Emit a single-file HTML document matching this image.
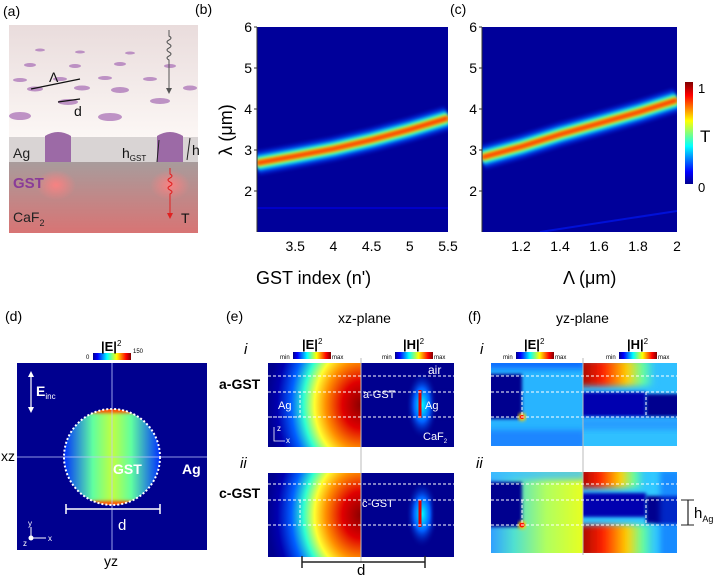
<!DOCTYPE html>
<html><head><meta charset="utf-8">
<style>
html,body{margin:0;padding:0;background:#fff;}
body{width:725px;height:575px;overflow:hidden;font-family:"Liberation Sans",sans-serif;}
svg text{font-family:"Liberation Sans",sans-serif;}
</style></head>
<body>
<svg id="fig" width="725" height="575" viewBox="0 0 725 575" xmlns="http://www.w3.org/2000/svg">
<defs>
<linearGradient id="jet" x1="0" x2="1" y1="0" y2="0">
<stop offset="0" stop-color="#00008f"/><stop offset="0.12" stop-color="#0000ff"/><stop offset="0.37" stop-color="#00ffff"/><stop offset="0.62" stop-color="#ffff00"/><stop offset="0.87" stop-color="#ff0000"/><stop offset="1" stop-color="#800000"/>
</linearGradient>
<linearGradient id="jetv" x1="0" x2="0" y1="1" y2="0">
<stop offset="0" stop-color="#00008f"/><stop offset="0.12" stop-color="#0000ff"/><stop offset="0.37" stop-color="#00ffff"/><stop offset="0.62" stop-color="#ffff00"/><stop offset="0.87" stop-color="#ff0000"/><stop offset="1" stop-color="#800000"/>
</linearGradient>
<linearGradient id="hot" x1="0" x2="1"><stop offset="0" stop-color="#8a0000"/><stop offset="0.35" stop-color="#ff2000"/><stop offset="0.65" stop-color="#ffd000"/><stop offset="0.85" stop-color="#60ffa0"/><stop offset="1" stop-color="#30c0ff"/></linearGradient>
<linearGradient id="atop" x1="0" x2="0" y1="0" y2="1"><stop offset="0" stop-color="#e9dcdc"/><stop offset="1" stop-color="#fcf7f5"/></linearGradient>
<linearGradient id="abot" x1="0" x2="0" y1="0" y2="1"><stop offset="0" stop-color="#a89c9c"/><stop offset="1" stop-color="#d87474"/></linearGradient>
<radialGradient id="glow"><stop offset="0" stop-color="#ff8080" stop-opacity="0.9"/><stop offset="1" stop-color="#ff8080" stop-opacity="0"/></radialGradient>
<radialGradient id="eL" cx="1" cy="0.5" r="1" fx="1" fy="0.5" gradientTransform="translate(1 0.5) scale(1 1.4) translate(-1 -0.5)">
<stop offset="0" stop-color="#8a0000"/><stop offset="0.2" stop-color="#e00000"/><stop offset="0.38" stop-color="#ff9000"/><stop offset="0.5" stop-color="#ffff30"/><stop offset="0.62" stop-color="#30ffd0"/><stop offset="0.75" stop-color="#0060ff"/><stop offset="0.9" stop-color="#0000b0"/><stop offset="1" stop-color="#00008f"/>
</radialGradient>
<radialGradient id="hG"><stop offset="0" stop-color="#00ffff"/><stop offset="0.5" stop-color="#0060ff"/><stop offset="1" stop-color="#00008f" stop-opacity="0"/></radialGradient>
<linearGradient id="dC" x1="0" x2="1"><stop offset="0" stop-color="#0030ff"/><stop offset="0.3" stop-color="#60ffa0"/><stop offset="0.5" stop-color="#c0ff40"/><stop offset="0.7" stop-color="#60ffa0"/><stop offset="1" stop-color="#0030ff"/></linearGradient>
<linearGradient id="fiiL" x1="0" x2="1"><stop offset="0" stop-color="#30a0ff"/><stop offset="0.25" stop-color="#50e0d0"/><stop offset="0.6" stop-color="#b0ff60"/><stop offset="1" stop-color="#e8ff20"/></linearGradient>
<filter id="bl" x="-10%" y="-50%" width="120%" height="200%"><feGaussianBlur stdDeviation="1.6"/></filter>
<filter id="bl3" x="-30%" y="-30%" width="160%" height="160%"><feGaussianBlur stdDeviation="3"/></filter>
<clipPath id="cb"><rect x="257" y="27" width="191" height="205"/></clipPath>
<clipPath id="cc"><rect x="482" y="27" width="195" height="205"/></clipPath>
<clipPath id="cd"><circle cx="112" cy="457" r="48"/></clipPath>
<clipPath id="fiL"><rect x="491" y="363" width="92" height="83"/></clipPath>
<clipPath id="fiR"><rect x="583" y="363" width="94" height="83"/></clipPath>
<clipPath id="fiiLc"><rect x="491" y="472" width="92" height="81"/></clipPath>
<clipPath id="fiiR"><rect x="583" y="472" width="94" height="81"/></clipPath>
<clipPath id="eiR"><rect x="361" y="363" width="93" height="84"/></clipPath>
<clipPath id="eiiR"><rect x="361" y="473" width="93" height="84"/></clipPath>
</defs>

<!-- Panel a -->
<g>
<text x="3" y="16" font-size="14">(a)</text>
<rect x="9" y="25" width="189" height="112" fill="url(#atop)"/>
<rect x="9" y="137" width="189" height="25" fill="#d9d4d4"/>
<rect x="9" y="162" width="189" height="71" fill="url(#abot)"/>
<g fill="#b482be" opacity="0.85">
<ellipse cx="20" cy="80" rx="7" ry="2"/><ellipse cx="60" cy="79" rx="7" ry="2"/><ellipse cx="105" cy="78" rx="7" ry="2"/><ellipse cx="150" cy="79" rx="7" ry="2"/><ellipse cx="190" cy="88" rx="7" ry="2.5"/>
<ellipse cx="35" cy="89" rx="8" ry="2.5"/><ellipse cx="82" cy="88" rx="8" ry="2.5"/><ellipse cx="120" cy="90" rx="9" ry="3"/>
<ellipse cx="68" cy="102" rx="10" ry="3"/><ellipse cx="160" cy="101" rx="10" ry="3"/>
<ellipse cx="20" cy="116" rx="11" ry="4"/><ellipse cx="110" cy="117" rx="12" ry="4"/>
<ellipse cx="40" cy="50" rx="5" ry="1.5"/><ellipse cx="80" cy="52" rx="5" ry="1.5"/><ellipse cx="130" cy="53" rx="5" ry="1.5"/><ellipse cx="30" cy="65" rx="6" ry="2"/><ellipse cx="75" cy="66" rx="6" ry="2"/><ellipse cx="120" cy="64" rx="6" ry="2"/><ellipse cx="170" cy="66" rx="6" ry="2"/>
</g>
<ellipse cx="56" cy="185" rx="20" ry="15" fill="url(#glow)"/>
<ellipse cx="170" cy="185" rx="20" ry="15" fill="url(#glow)"/>
<path d="M45 162 V136 Q58 128 71 136 V162 Z" fill="#9c6aa6"/>
<path d="M157 162 V136 Q170 128 183 136 V162 Z" fill="#9c6aa6"/>
<text x="13" y="158" font-size="14" fill="#222">Ag</text>
<text x="13" y="188" font-size="15" font-weight="bold" fill="#8a3c98">GST</text>
<text x="13" y="222" font-size="14" fill="#222">CaF<tspan font-size="9" dy="4">2</tspan></text>
<text x="122" y="158" font-size="14" fill="#111">h<tspan font-size="8" dy="3">GST</tspan></text>
<line x1="159" y1="140" x2="157" y2="162" stroke="#222" stroke-width="1"/>
<line x1="190" y1="138" x2="187" y2="160" stroke="#222" stroke-width="1"/>
<text x="192" y="155" font-size="14" fill="#111">h</text>
<line x1="31" y1="89" x2="80" y2="79" stroke="#111" stroke-width="1.2"/>
<text x="49" y="82" font-size="14" fill="#111">Λ</text>
<line x1="58" y1="102" x2="80" y2="99" stroke="#111" stroke-width="1.2"/>
<text x="74" y="116" font-size="14" fill="#111">d</text>
<path d="M169 30 V36 q4 2 0 4 q-4 2 0 4 q4 2 0 4 q-4 2 0 4 q4 2 0 4 q-4 2 0 4 V92" stroke="#555" fill="none" stroke-width="1"/>
<path d="M166 88 L169 94 L172 88 Z" fill="#555"/>
<path d="M170 168 V174 q4 2 0 4 q-4 2 0 4 q4 2 0 4 q-4 2 0 4 q4 2 0 4 V216" stroke="#e02020" fill="none" stroke-width="1"/>
<path d="M167 213 L170 219 L173 213 Z" fill="#e02020"/>
<text x="181" y="223" font-size="14" fill="#111">T</text>
</g>

<!-- Panel b -->
<g>
<text x="195" y="14" font-size="14">(b)</text>
<rect x="257" y="27" width="191" height="205" fill="#00009a"/>
<g id="bandB" clip-path="url(#cb)"></g>
<g id="axB"></g>
<text x="256" y="284" font-size="18">GST index (n')</text>
<text transform="translate(232 130) rotate(-90)" text-anchor="middle" font-size="18">λ (μm)</text>
</g>

<!-- Panel c -->
<g>
<text x="450" y="14" font-size="14">(c)</text>
<rect x="482" y="27" width="195" height="205" fill="#00009a"/>
<g id="bandC" clip-path="url(#cc)"></g>
<g id="axC"></g>
<text x="563" y="284" font-size="18">Λ (μm)</text>
<rect x="685" y="82" width="8" height="102" fill="url(#jetv)"/>
<text x="698" y="93" font-size="13">1</text>
<text x="698" y="192" font-size="13">0</text>
<text x="700" y="142" font-size="17">T</text>
</g>

<!-- Panel d -->
<g>
<text x="5" y="321" font-size="14">(d)</text>
<rect x="93" y="353" width="38" height="7" fill="url(#jet)"/>
<text x="86" y="359" font-size="6">0</text>
<text x="133" y="353" font-size="6">150</text>
<text x="101" y="351" font-size="13" font-weight="bold">|E|<tspan font-size="8" font-weight="normal" dy="-5">2</tspan></text>
<rect x="17" y="363" width="190" height="187" fill="#00008f"/>
<g clip-path="url(#cd)">
<rect x="64" y="409" width="96" height="96" fill="url(#dC)"/>
<rect x="64" y="405" width="96" height="8" fill="#ff5000" filter="url(#bl)"/>
<rect x="64" y="501" width="96" height="8" fill="#ff5000" filter="url(#bl)"/>
</g>
<circle cx="112" cy="457" r="48" fill="none" stroke="#fff" stroke-width="2" stroke-dasharray="2 2"/>
<line x1="112" y1="363" x2="112" y2="550" stroke="#c0c8ff" stroke-width="0.8"/>
<line x1="17" y1="457" x2="207" y2="457" stroke="#c0c8ff" stroke-width="0.8"/>
<text x="113" y="474" font-size="14" font-weight="bold" fill="#fff">GST</text>
<text x="182" y="474" font-size="14" font-weight="bold" fill="#fff">Ag</text>
<line x1="66" y1="509" x2="160" y2="509" stroke="#fff" stroke-width="1.5"/>
<line x1="66" y1="504" x2="66" y2="514" stroke="#fff" stroke-width="1.5"/>
<line x1="160" y1="504" x2="160" y2="514" stroke="#fff" stroke-width="1.5"/>
<text x="118" y="530" font-size="15" fill="#fff">d</text>
<line x1="31" y1="373" x2="31" y2="411" stroke="#fff" stroke-width="1.2"/>
<path d="M28 377 L31 371 L34 377 Z M28 407 L31 413 L34 407 Z" fill="#fff"/>
<text x="36" y="396" font-size="14" font-weight="bold" fill="#fff">E<tspan font-size="8" font-weight="normal" dy="3">inc</tspan></text>
<circle cx="31" cy="538" r="2.5" fill="#fff"/>
<line x1="31" y1="538" x2="46" y2="538" stroke="#fff"/><line x1="31" y1="538" x2="31" y2="527" stroke="#fff"/>
<text x="48" y="541" font-size="8" fill="#fff">x</text><text x="28" y="526" font-size="8" fill="#fff">y</text><text x="23" y="546" font-size="8" fill="#fff">z</text>
<text x="1" y="461" font-size="14">xz</text>
<text x="104" y="566" font-size="14">yz</text>
</g>

<!-- Panel e -->
<g>
<text x="226" y="321" font-size="14">(e)</text>
<text x="338" y="323" font-size="14">xz-plane</text>
<text x="244" y="354" font-size="15" font-style="italic">i</text>
<text x="240" y="468" font-size="15" font-style="italic">ii</text>
<text x="219" y="389" font-size="14" font-weight="bold">a-GST</text>
<text x="219" y="498" font-size="14" font-weight="bold">c-GST</text>
<text x="280" y="359" font-size="6">min</text><text x="332" y="359" font-size="6">max</text>
<rect x="293" y="352" width="38" height="7" fill="url(#jet)"/>
<text x="302" y="349" font-size="13" font-weight="bold">|E|<tspan font-size="8" font-weight="normal" dy="-5">2</tspan></text>
<text x="382" y="359" font-size="6">min</text><text x="434" y="359" font-size="6">max</text>
<rect x="395" y="352" width="38" height="7" fill="url(#jet)"/>
<text x="403" y="349" font-size="13" font-weight="bold">|H|<tspan font-size="8" font-weight="normal" dy="-5">2</tspan></text>
<rect x="268" y="363" width="93" height="84" fill="url(#eL)"/>
<rect x="361" y="363" width="93" height="84" fill="#00008f"/>
<g clip-path="url(#eiR)">
<ellipse cx="422" cy="405" rx="16" ry="34" fill="url(#hG)"/>
<rect x="433" y="392" width="21" height="25" fill="#00008f" opacity="0.5" filter="url(#bl)"/>
</g>
<line x1="420" y1="390" x2="420" y2="418" stroke="#e00000" stroke-width="3"/>
<rect x="268" y="473" width="93" height="84" fill="url(#eL)"/>
<rect x="361" y="473" width="93" height="84" fill="#00008f"/>
<g clip-path="url(#eiiR)">
<ellipse cx="422" cy="514" rx="16" ry="34" fill="url(#hG)"/>
<rect x="433" y="500" width="21" height="25" fill="#00008f" filter="url(#bl)"/>
</g>
<line x1="420" y1="500" x2="420" y2="527" stroke="#e00000" stroke-width="3"/>
<line x1="361" y1="358" x2="361" y2="562" stroke="#bbb" stroke-width="1"/>
<g stroke="#fff" stroke-width="1" stroke-dasharray="3 2" fill="none">
<line x1="268" y1="376" x2="454" y2="376"/><line x1="268" y1="392" x2="454" y2="392"/><line x1="268" y1="417" x2="454" y2="417"/>
<polyline points="268,392 300,392 300,417 268,417"/>
<line x1="268" y1="484" x2="454" y2="484"/><line x1="268" y1="500" x2="454" y2="500"/><line x1="268" y1="525" x2="454" y2="525"/>
<line x1="300" y1="500" x2="300" y2="525"/>
</g>
<text x="428" y="374" font-size="12" fill="#fff">air</text>
<text x="363" y="398" font-size="11" fill="#fff">a-GST</text>
<text x="362" y="507" font-size="11" fill="#fff">c-GST</text>
<text x="278" y="409" font-size="11" fill="#fff">Ag</text>
<text x="425" y="409" font-size="11" fill="#fff">Ag</text>
<text x="423" y="440" font-size="11" fill="#fff">CaF<tspan font-size="6" dy="3">2</tspan></text>
<path d="M274 427 V441 H285" stroke="#fff" fill="none" stroke-width="0.8"/>
<text x="277" y="431" font-size="8" fill="#fff">z</text><text x="286" y="443" font-size="8" fill="#fff">x</text>
<line x1="302" y1="562" x2="425" y2="562" stroke="#222" stroke-width="1.5"/>
<line x1="302" y1="556" x2="302" y2="568" stroke="#222" stroke-width="1.5"/>
<line x1="425" y1="556" x2="425" y2="568" stroke="#222" stroke-width="1.5"/>
<text x="357" y="575" font-size="15">d</text>
</g>

<!-- Panel f -->
<g>
<text x="468" y="321" font-size="14">(f)</text>
<text x="556" y="323" font-size="14">yz-plane</text>
<text x="480" y="354" font-size="15" font-style="italic">i</text>
<text x="476" y="468" font-size="15" font-style="italic">ii</text>
<text x="503" y="359" font-size="6">min</text><text x="555" y="359" font-size="6">max</text>
<rect x="516" y="352" width="38" height="7" fill="url(#jet)"/>
<text x="524" y="349" font-size="13" font-weight="bold">|E|<tspan font-size="8" font-weight="normal" dy="-5">2</tspan></text>
<text x="606" y="359" font-size="6">min</text><text x="658" y="359" font-size="6">max</text>
<rect x="619" y="352" width="38" height="7" fill="url(#jet)"/>
<text x="627" y="349" font-size="13" font-weight="bold">|H|<tspan font-size="8" font-weight="normal" dy="-5">2</tspan></text>
<!-- i left -->
<g clip-path="url(#fiL)">
<rect x="491" y="363" width="92" height="83" fill="#28b4ff"/>
<rect x="485" y="355" width="100" height="14" fill="#1070ff" filter="url(#bl3)"/>
<rect x="485" y="374" width="37" height="45" fill="#00008f" filter="url(#bl)"/>
<rect x="485" y="430" width="100" height="20" fill="#1868ff" opacity="0.6" filter="url(#bl3)"/>
<circle cx="522" cy="417" r="4" fill="#ffd000" filter="url(#bl)"/>
<circle cx="522" cy="417" r="2" fill="#ff1000"/>
</g>
<!-- i right -->
<g clip-path="url(#fiR)">
<rect x="583" y="363" width="94" height="83" fill="#30c0ff"/>
<rect x="575" y="360" width="80" height="26" fill="url(#hot)" filter="url(#bl3)"/>
<rect x="575" y="392" width="71" height="25" fill="#0000b0" filter="url(#bl)"/>
<rect x="646" y="394" width="40" height="23" fill="#00008f" filter="url(#bl)"/>
<rect x="575" y="418" width="110" height="12" fill="#2088ff" opacity="0.6" filter="url(#bl3)"/>
</g>
<!-- ii left -->
<g clip-path="url(#fiiLc)">
<rect x="491" y="472" width="92" height="81" fill="url(#fiiL)"/>
<rect x="485" y="466" width="100" height="14" fill="#40c0ff" opacity="0.8" filter="url(#bl3)"/>
<rect x="485" y="482" width="37" height="45" fill="#00008f" filter="url(#bl)"/>
<circle cx="522" cy="525" r="4" fill="#ffd000" filter="url(#bl)"/>
<circle cx="522" cy="525" r="2.5" fill="#ff1000"/>
</g>
<!-- ii right -->
<g clip-path="url(#fiiR)">
<rect x="583" y="472" width="94" height="81" fill="#30c8ff"/>
<rect x="575" y="468" width="70" height="20" fill="url(#hot)" filter="url(#bl3)"/>
<rect x="575" y="493" width="71" height="24" fill="#0000b0" filter="url(#bl)"/>
<rect x="646" y="496" width="40" height="28" fill="#00008f" filter="url(#bl)"/>
<rect x="575" y="525" width="80" height="32" fill="url(#hot)" filter="url(#bl3)"/>
<rect x="660" y="470" width="22" height="90" fill="#0050ff" opacity="0.5" filter="url(#bl3)"/>
</g>
<line x1="583" y1="358" x2="583" y2="555" stroke="#bbb" stroke-width="1"/>
<g stroke="#fff" stroke-width="1" stroke-dasharray="3 2" fill="none">
<line x1="491" y1="376" x2="677" y2="376"/><line x1="491" y1="392" x2="677" y2="392"/><line x1="491" y1="417" x2="677" y2="417"/>
<line x1="522" y1="392" x2="522" y2="417"/><line x1="646" y1="392" x2="646" y2="417"/>
<line x1="491" y1="484" x2="677" y2="484"/><line x1="491" y1="500" x2="677" y2="500"/><line x1="491" y1="525" x2="677" y2="525"/>
<line x1="522" y1="500" x2="522" y2="525"/><line x1="646" y1="500" x2="646" y2="525"/>
</g>
<line x1="688" y1="500" x2="688" y2="525" stroke="#222" stroke-width="1.2"/>
<line x1="681" y1="500" x2="694" y2="500" stroke="#222"/><line x1="681" y1="525" x2="694" y2="525" stroke="#222"/>
<text x="694" y="518" font-size="15">h<tspan font-size="9" dy="4">Ag</tspan></text>
</g>

<script>
// Panel b data: resonance peak wavelength vs GST index
var bIndex = [3.0, 3.5, 4.0, 4.5, 5.0, 5.5];
var bPeakWl = [2.68, 2.85, 3.03, 3.25, 3.50, 3.78];
var bXTicks = [3.5, 4, 4.5, 5, 5.5];
// Panel c data: resonance peak wavelength vs period
var cPeriod = [1.0, 1.2, 1.4, 1.6, 1.8, 2.0];
var cPeakWl = [2.82, 3.08, 3.38, 3.65, 3.92, 4.22];
var cXTicks = [1.2, 1.4, 1.6, 1.8, 2];
var yTicks = [2, 3, 4, 5, 6];

var NS = "http://www.w3.org/2000/svg";
function yScale(v){ return 232 - (v - 1) * 41; }
function bx(v){ return 257 + (v - 3.0) / 2.5 * 191; }
function cx(v){ return 482 + (v - 1.0) / 1.0 * 195; }
function mk(tag, attrs, parent){
  var e = document.createElementNS(NS, tag);
  for (var k in attrs) e.setAttribute(k, attrs[k]);
  parent.appendChild(e); return e;
}
function band(g, xs, ys, xf, nm){
  var d = "";
  for (var i = 0; i < xs.length; i++) d += (i ? " L" : "M") + xf(xs[i]).toFixed(1) + " " + yScale(ys[i]).toFixed(1);
  var layers = [[24,"#0040ff",0.5],[17,"#0090ff",0.9],[12,"#20ffe0",1],[8,"#c0ff30",1],[5,"#ff9000",1],[2.5,"#ff2000",1]];
  for (var j = 0; j < layers.length; j++){
    var p = mk("path", {d: d, fill: "none", stroke: layers[j][1], "stroke-width": layers[j][0], opacity: layers[j][2], filter: "url(#bl)"}, g);
    
    
  }
}
function axes(g, x0, x1, xticks, xf){
  mk("line", {x1: x0, y1: 27, x2: x0, y2: 232, stroke: "#333", "stroke-width": 1}, g);
  for (var i = 0; i < yTicks.length; i++){
    var y = yScale(yTicks[i]);
    mk("line", {x1: x0 - 3, y1: y, x2: x0, y2: y, stroke: "#333"}, g);
    var t = mk("text", {x: x0 - 5, y: y + 5, "text-anchor": "end", "font-size": 14}, g);
    t.textContent = yTicks[i];
    
    
  }
  for (var k = 0; k < xticks.length; k++){
    var tx = mk("text", {x: xf(xticks[k]), y: 251, "text-anchor": "middle", "font-size": 14}, g);
    tx.textContent = xticks[k];
    
    
  }
}
band(document.getElementById("bandB"), bIndex, bPeakWl, bx, "panel-b-resonance-band");
band(document.getElementById("bandC"), cPeriod, cPeakWl, cx, "panel-c-resonance-band");
mk("line", {x1: 257, y1: 208, x2: 448, y2: 208, stroke: "#0000c8", "stroke-width": 2}, document.getElementById("bandB"));
mk("line", {x1: 540, y1: 232, x2: 677, y2: 211, stroke: "#0010d8", "stroke-width": 2}, document.getElementById("bandC"));
axes(document.getElementById("axB"), 257, 448, bXTicks, bx);
axes(document.getElementById("axC"), 482, 677, cXTicks, cx);
</script>
</svg>
</body></html>
